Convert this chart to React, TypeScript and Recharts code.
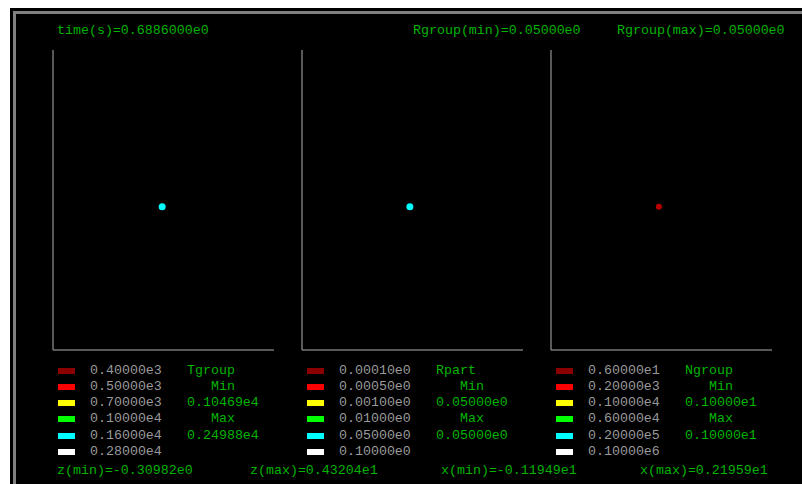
import React from 'react';
import { ScatterChart, Scatter, XAxis, YAxis } from 'recharts';

// header / footer values
const timeLabel = 'time(s)=0.6886000e0';
const rgroupRange = ['Rgroup(min)=0.05000e0', 'Rgroup(max)=0.05000e0'];
const footerLabels = ['z(min)=-0.30982e0', 'z(max)=0.43204e1', 'x(min)=-0.11949e1', 'x(max)=0.21959e1'];
const footerX = [57, 250, 441, 640];

// plot ranges (same for all three panels)
const xDomain: [number, number] = [-1.1949, 2.1959];
const zDomain: [number, number] = [-0.30982, 4.3204];

// legend colour levels
const levelColors = ['#8b0000', '#ff0000', '#ffff00', '#00ff00', '#00ffff', '#ffffff'];
const tgroupLevels = ['0.40000e3', '0.50000e3', '0.70000e3', '0.10000e4', '0.16000e4', '0.28000e4'];
const rpartLevels = ['0.00010e0', '0.00050e0', '0.00100e0', '0.01000e0', '0.05000e0', '0.10000e0'];
const ngroupLevels = ['0.60000e1', '0.20000e3', '0.10000e4', '0.60000e4', '0.20000e5', '0.10000e6'];

const panelNames = ['Tgroup', 'Rpart', 'Ngroup'];
const panelMins = ['0.10469e4', '0.05000e0', '0.10000e1'];
const panelMaxs = ['0.24988e4', '0.05000e0', '0.10000e1'];
const panelLevels = [tgroupLevels, rpartLevels, ngroupLevels];

// one particle per panel, x / z position
const tgroupPoints = [{ x: 0.48, z: 1.9 }];
const rpartPoints = [{ x: 0.46, z: 1.9 }];
const ngroupPoints = [{ x: 0.46, z: 1.9 }];
const panelPoints = [tgroupPoints, rpartPoints, ngroupPoints];
const pointColors = ['#00ffff', '#00ffff', '#b80000'];
const pointRadius = [3.5, 3.5, 3];

const AXIS_X = [53, 302, 551];
const PLOT_TOP = 50;
const PLOT_W = 222;
const PLOT_H = 301;
const ROW_Y = 370.5;
const ROW_STEP = 16.3;

const mono = '"Liberation Mono", "DejaVu Sans Mono", monospace';
const green = '#00b400';
const grey = '#9a9a9a';

const Label: React.FC<{ x: number; y: number; color: string; children: React.ReactNode }> = ({ x, y, color, children }) => (
  <span
    style={{
      position: 'absolute',
      left: x,
      top: y - 8,
      lineHeight: '16px',
      fontSize: 13.3,
      fontFamily: mono,
      color,
      whiteSpace: 'pre',
    }}
  >
    {children}
  </span>
);

const Panel: React.FC<{ idx: number }> = ({ idx }) => {
  const ax = AXIS_X[idx];
  const right = [panelNames[idx], '   Min', panelMins[idx], '   Max', panelMaxs[idx]];
  return (
    <>
      <div style={{ position: 'absolute', left: ax - 1, top: PLOT_TOP }}>
        <ScatterChart width={PLOT_W} height={PLOT_H} margin={{ top: 0, right: 0, bottom: 0, left: 0 }}>
          <XAxis
            type="number"
            dataKey="x"
            domain={xDomain}
            allowDataOverflow
            height={1}
            tick={false}
            tickLine={false}
            axisLine={{ stroke: '#b0b0b0' }}
          />
          <YAxis
            type="number"
            dataKey="z"
            domain={zDomain}
            allowDataOverflow
            width={1}
            tick={false}
            tickLine={false}
            axisLine={{ stroke: '#b0b0b0' }}
          />
          <Scatter
            data={panelPoints[idx]}
            isAnimationActive={false}
            fill={pointColors[idx]}
            shape={(p: any) => <circle cx={p.cx} cy={p.cy} r={pointRadius[idx]} fill={pointColors[idx]} />}
          />
        </ScatterChart>
      </div>
      {panelLevels[idx].map((lv, i) => (
        <React.Fragment key={lv}>
          <div
            style={{
              position: 'absolute',
              left: ax + 5,
              top: ROW_Y + i * ROW_STEP - 3,
              width: 17,
              height: 6,
              background: levelColors[i],
            }}
          />
          <Label x={ax + 37} y={ROW_Y + i * ROW_STEP} color={grey}>
            {lv}
          </Label>
        </React.Fragment>
      ))}
      {right.map((t, i) => (
        <Label key={i} x={ax + 134} y={ROW_Y + i * ROW_STEP} color={green}>
          {t}
        </Label>
      ))}
    </>
  );
};

export default function App() {
  return (
    <div style={{ position: 'fixed', left: 0, top: 0, width: 802, height: 484, background: '#fff', overflow: 'hidden' }}>
      <div style={{ position: 'absolute', left: 10, top: 8, width: 792, height: 476, background: '#000' }}>
        <div
          style={{
            position: 'absolute',
            left: 3,
            top: 3,
            right: 0,
            bottom: 0,
            borderTop: '3px solid #808080',
            borderLeft: '3px solid #808080',
          }}
        />
      </div>
      <Label x={57} y={31} color={green}>
        {timeLabel}
      </Label>
      <Label x={413} y={31} color={green}>
        {rgroupRange[0]}
      </Label>
      <Label x={617} y={31} color={green}>
        {rgroupRange[1]}
      </Label>
      {[0, 1, 2].map((i) => (
        <Panel key={i} idx={i} />
      ))}
      {footerLabels.map((t, i) => (
        <Label key={t} x={footerX[i]} y={471} color={green}>
          {t}
        </Label>
      ))}
    </div>
  );
}
